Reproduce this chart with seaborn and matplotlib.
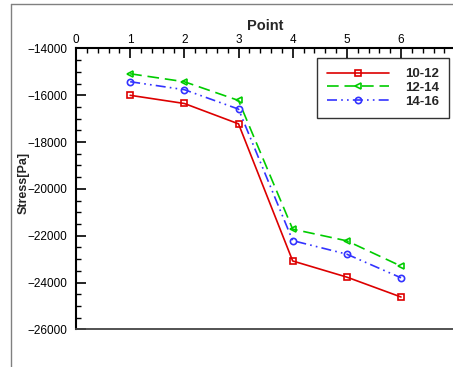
import matplotlib
matplotlib.use("Agg")
import matplotlib.pyplot as plt
import seaborn as sns
import pandas as pd
from matplotlib.lines import Line2D
from matplotlib.ticker import MultipleLocator

points = [1, 2, 3, 4, 5, 6]
s_10_12 = [-16000, -16350, -17220, -23080, -23770, -24620]
s_12_14 = [-15080, -15420, -16220, -21720, -22220, -23300]
s_14_16 = [-15420, -15760, -16590, -22210, -22790, -23800]
series_names = ["10-12", "12-14", "14-16"]

df = pd.DataFrame({
    "Point": points * 3,
    "Stress": s_10_12 + s_12_14 + s_14_16,
    "Series": [n for n in series_names for _ in points],
})

sns.set_theme(style="white")
plt.rcParams['font.family'] = ['Liberation Sans', 'DejaVu Sans']

fig = plt.figure(figsize=(4.53, 3.67), dpi=100)
ax = fig.add_axes([76 / 453, 37.7 / 367, 379.2 / 453, 280.8 / 367])

styles = {
    "10-12": dict(color="#dd0000", ls="-", marker="s"),
    "12-14": dict(color="#00cc00", ls=(0, (7, 3.5)), marker="<"),
    "14-16": dict(color="#3333ff", ls=(0, (6, 2.5, 1, 2.5, 1, 2.5)), marker="o"),
}
for name in series_names:
    st = styles[name]
    sns.lineplot(data=df[df["Series"] == name], x="Point", y="Stress", ax=ax,
                 color=st["color"], linestyle=st["ls"], marker=st["marker"],
                 markersize=4.5, markerfacecolor="none", markeredgecolor=st["color"],
                 markeredgewidth=1.2, linewidth=1.2, label=name)

ax.set_xlim(0, 7)
ax.set_ylim(-26000, -14000)
ax.xaxis.tick_top()
ax.xaxis.set_label_position("top")
ax.xaxis.set_major_locator(MultipleLocator(1))
ax.xaxis.set_minor_locator(MultipleLocator(0.2))
ax.yaxis.set_major_locator(MultipleLocator(2000))
ax.yaxis.set_minor_locator(MultipleLocator(500))
ax.tick_params(axis="both", which="major", direction="in", length=7, width=1.2,
               color="black", labelsize=8.5, labelcolor="black")
ax.tick_params(axis="both", which="minor", direction="in", length=3.5, width=1,
               color="black")
ax.tick_params(axis="x", which="both", top=True, bottom=False, pad=2)
ax.tick_params(axis="y", which="both", left=True, right=False, pad=6)

for side in ["left", "top"]:
    ax.spines[side].set_color("black")
    ax.spines[side].set_linewidth(1.5)
ax.spines["bottom"].set_color("#444444")
ax.spines["bottom"].set_linewidth(1.3)
ax.spines["right"].set_visible(False)

ax.set_xlabel("Point", fontsize=10.5, fontweight="bold", labelpad=3)
ax.set_ylabel("Stress[Pa]", fontsize=9, fontweight="bold")
ax.yaxis.set_label_coords(-0.122, 0.52)

leg = ax.legend(loc="upper left", bbox_to_anchor=(0.636, 0.966), borderaxespad=0,
                prop={"weight": "bold", "size": 9.5}, frameon=True,
                fancybox=False, edgecolor="black", handlelength=4.7,
                handletextpad=1.2, labelspacing=0.12, borderpad=0.75)
leg.get_frame().set_linewidth(1.0)

# outer page frame
fig.add_artist(Line2D([11 / 453, 11 / 453], [0, 1 - 4 / 367], transform=fig.transFigure,
                      color="#808080", lw=1.0))
fig.add_artist(Line2D([11 / 453, 1], [1 - 4 / 367, 1 - 4 / 367], transform=fig.transFigure,
                      color="#808080", lw=1.0))

fig.savefig("out.png", dpi=100)
